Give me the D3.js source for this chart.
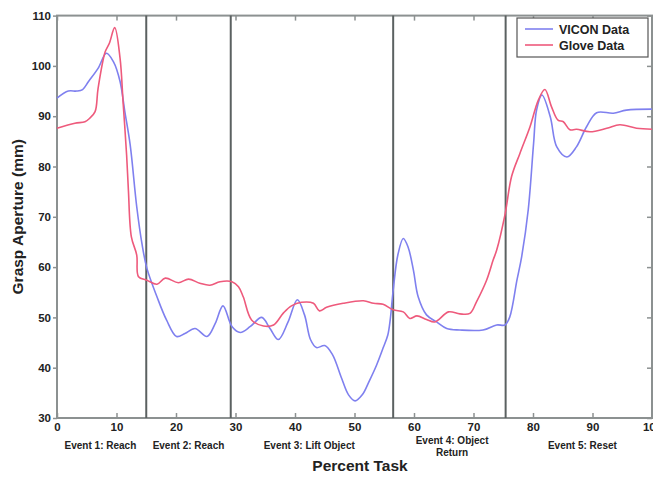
<!DOCTYPE html>
<html>
<head>
<meta charset="utf-8">
<script src="https://cdn.jsdelivr.net/npm/d3@7"></script>
<style>
  body { margin: 0; background: #fff; }
  text { font-family: "Liberation Sans", Arial, sans-serif; font-weight: bold; }
</style>
</head>
<body>
<svg id="chart" width="653" height="483"></svg>
<script>
// VICON data: [percent task, aperture mm]
var viconData = [
  [0, 93.6], [1.9, 95.0], [3.3, 95.0], [4.3, 95.3], [5.3, 96.9], [6.9, 99.5], [8.3, 102.5],
  [9.5, 100.8], [10.6, 96.9], [11.4, 90.9], [12.3, 84.3], [13.4, 72], [14.3, 64.5],
  [15.1, 59.8], [16.8, 54.1], [18.4, 49.5], [20.1, 46.2], [21.5, 46.8], [23.2, 47.8],
  [25.2, 46.2], [26.6, 48.8], [27.9, 52.3], [29.4, 48.2], [30.8, 47.0], [32.5, 48.2],
  [34.4, 50.0], [35.8, 47.8], [37.2, 45.6], [38.8, 49.0], [40.4, 53.5], [41.6, 50.5],
  [42.6, 45.6], [43.6, 44.0], [45.0, 44.4], [46.3, 42.6], [47.8, 38.0], [49.0, 34.6],
  [50.1, 33.4], [51.3, 34.6], [52.5, 37.4], [53.7, 40.5], [54.8, 43.9], [55.6, 46.5],
  [56.0, 49.5], [56.5, 55.4], [57.3, 62.5], [58.2, 65.7], [59.0, 64.0], [59.9, 59.4],
  [60.7, 54.1], [62.1, 50.5], [63.8, 49.1], [65.5, 47.8], [67.7, 47.5], [71.6, 47.5],
  [73.9, 48.5], [75.3, 48.5], [76.1, 50.1], [77.3, 57.4], [78.1, 62.1], [79.2, 71.4],
  [80.1, 84.6], [80.6, 91.2], [81.5, 94.2], [82.9, 89.9], [84.0, 83.9], [85.7, 81.9],
  [87.3, 83.9], [89.0, 87.9], [90.7, 90.7], [93.5, 90.6], [95.7, 91.2], [100, 91.4]
];

// Glove data: [percent task, aperture mm]
var gloveData = [
  [0, 87.6], [3.0, 88.6], [4.7, 88.9], [5.5, 89.6], [6.4, 90.9], [6.9, 95.5], [8.1, 102.8],
  [8.8, 104.5], [9.7, 107.6], [10.6, 101.5], [11.1, 92.9], [11.7, 82.3], [12.0, 75.3],
  [12.5, 66.0], [13.4, 62.4], [13.7, 58.1], [15.1, 57.4], [16.8, 56.6], [18.2, 57.8],
  [20.4, 56.9], [22.1, 57.6], [24.0, 56.8], [25.7, 56.4], [27.4, 57.1], [29.4, 57.1],
  [30.5, 56.1], [31.3, 54.1], [32.7, 49.5], [34.7, 48.3], [36.4, 48.5], [38.0, 50.8],
  [39.4, 52.3], [41.1, 53.0], [43.1, 52.8], [44.1, 51.3], [45.3, 52.0], [48.1, 52.8],
  [51.5, 53.3], [53.2, 52.8], [54.8, 52.6], [56.5, 51.5], [58.2, 51.1], [59.3, 49.8],
  [60.5, 50.3], [62.1, 49.6], [63.5, 49.1], [65.8, 51.1], [67.7, 50.7], [69.4, 50.8],
  [70.5, 53.1], [72.2, 57.4], [73.3, 61.4], [73.9, 63.4], [75.3, 70.5], [76.4, 78.0],
  [77.8, 82.6], [79.5, 87.9], [80.9, 93.2], [82.0, 95.3], [83.1, 91.9], [84.2, 89.2],
  [85.1, 88.9], [86.2, 87.3], [87.3, 87.4], [89.6, 86.9], [92.4, 87.6], [94.6, 88.3],
  [97.4, 87.6], [100, 87.4]
];

var eventLines = [15.0, 29.2, 56.5, 75.4];
var eventLabels = [
  { x: 7.3, lines: ["Event 1: Reach"] },
  { x: 22.1, lines: ["Event 2: Reach"] },
  { x: 42.4, lines: ["Event 3: Lift Object"] },
  { x: 66.4, lines: ["Event 4: Object", "Return"] },
  { x: 88.3, lines: ["Event 5: Reset"] }
];
var xTicks = [0, 10, 20, 30, 40, 50, 60, 70, 80, 90, 100];
var yTicks = [30, 40, 50, 60, 70, 80, 90, 100, 110];
var seriesNames = ["VICON Data", "Glove Data"];
var seriesColors = ["#7f80ef", "#ee5a7c"];

var svg = d3.select("#chart"),
  margin = { left: 57, right: 1, top: 15.6, bottom: 65 },
  width = 653 - margin.left - margin.right,
  height = 483 - margin.top - margin.bottom,
  g = svg.append("g").attr("transform", "translate(" + margin.left + "," + margin.top + ")");

var x = d3.scaleLinear().domain([0, 100]).range([0, width]);
var y = d3.scaleLinear().domain([30, 110]).range([height, 0]);

var line = d3.line()
  .x(function (d) { return x(d[0]); })
  .y(function (d) { return y(d[1]); })
  .curve(d3.curveCatmullRom.alpha(0.5));

// inside ticks on all four sides
var axisColor = "#8c9191";
function styleAxis(sel) {
  sel.select(".domain").remove();
  sel.selectAll(".tick line").attr("stroke", axisColor).attr("stroke-width", 1.5);
  sel.selectAll(".tick text").attr("fill", "#222").attr("font-size", 11.5).style("font-weight", "bold");
}

g.append("g").attr("transform", "translate(0," + height + ")")
  .call(d3.axisBottom(x).tickValues(xTicks).tickSize(-5).tickPadding(5))
  .call(styleAxis);
g.append("g")
  .call(d3.axisTop(x).tickValues(xTicks).tickSize(-5).tickFormat(""))
  .call(styleAxis);
g.append("g")
  .call(d3.axisLeft(y).tickValues(yTicks).tickSize(4).tickPadding(2))
  .call(styleAxis);
g.append("g").attr("transform", "translate(" + width + ",0)")
  .call(d3.axisRight(y).tickValues(yTicks).tickSize(-5).tickFormat(""))
  .call(styleAxis);

// frame
g.append("rect")
  .attr("width", width).attr("height", height)
  .attr("fill", "none").attr("stroke", axisColor).attr("stroke-width", 2);

// event separators
g.selectAll(".event")
  .data(eventLines)
  .enter().append("line")
  .attr("x1", function (d) { return x(d); })
  .attr("x2", function (d) { return x(d); })
  .attr("y1", 0).attr("y2", height)
  .attr("stroke", "#5b6161").attr("stroke-width", 2);

// series
[viconData, gloveData].forEach(function (data, i) {
  g.append("path")
    .datum(data)
    .attr("d", line)
    .attr("fill", "none")
    .attr("stroke", seriesColors[i])
    .attr("stroke-width", 1.6);
});

// event labels under the axis
var ev = g.selectAll(".evlabel")
  .data(eventLabels)
  .enter().append("text")
  .attr("text-anchor", "middle")
  .attr("font-size", 10)
  .attr("fill", "#222")
  .attr("y", function (d) { return height + (d.lines.length > 1 ? 26 : 31); });
ev.selectAll("tspan")
  .data(function (d) { return d.lines.map(function (l) { return { t: l, x: d.x }; }); })
  .enter().append("tspan")
  .attr("x", function (d) { return x(d.x); })
  .attr("dy", function (d, i) { return i ? 12 : 0; })
  .text(function (d) { return d.t; });

// axis titles
svg.append("text")
  .attr("x", 360).attr("y", 471)
  .attr("text-anchor", "middle")
  .attr("font-size", 15.5)
  .attr("fill", "#222")
  .text("Percent Task");
svg.append("text")
  .attr("transform", "translate(23," + (margin.top + height / 2) + ") rotate(-90)")
  .attr("text-anchor", "middle")
  .attr("font-size", 15.5)
  .attr("fill", "#222")
  .text("Grasp Aperture (mm)");

// legend
var legend = svg.append("g").attr("transform", "translate(517,18)");
legend.append("rect")
  .attr("width", 131).attr("height", 39)
  .attr("fill", "#fff").attr("stroke", "#555").attr("stroke-width", 1.2);
seriesNames.forEach(function (name, i) {
  var ly = 11 + i * 16;
  legend.append("line")
    .attr("x1", 8).attr("x2", 36).attr("y1", ly).attr("y2", ly)
    .attr("stroke", seriesColors[i]).attr("stroke-width", 1.6);
  legend.append("text")
    .attr("x", 42).attr("y", ly + 4.5)
    .attr("font-size", 12.5)
    .attr("fill", "#222")
    .text(name);
});
</script>
</body>
</html>
